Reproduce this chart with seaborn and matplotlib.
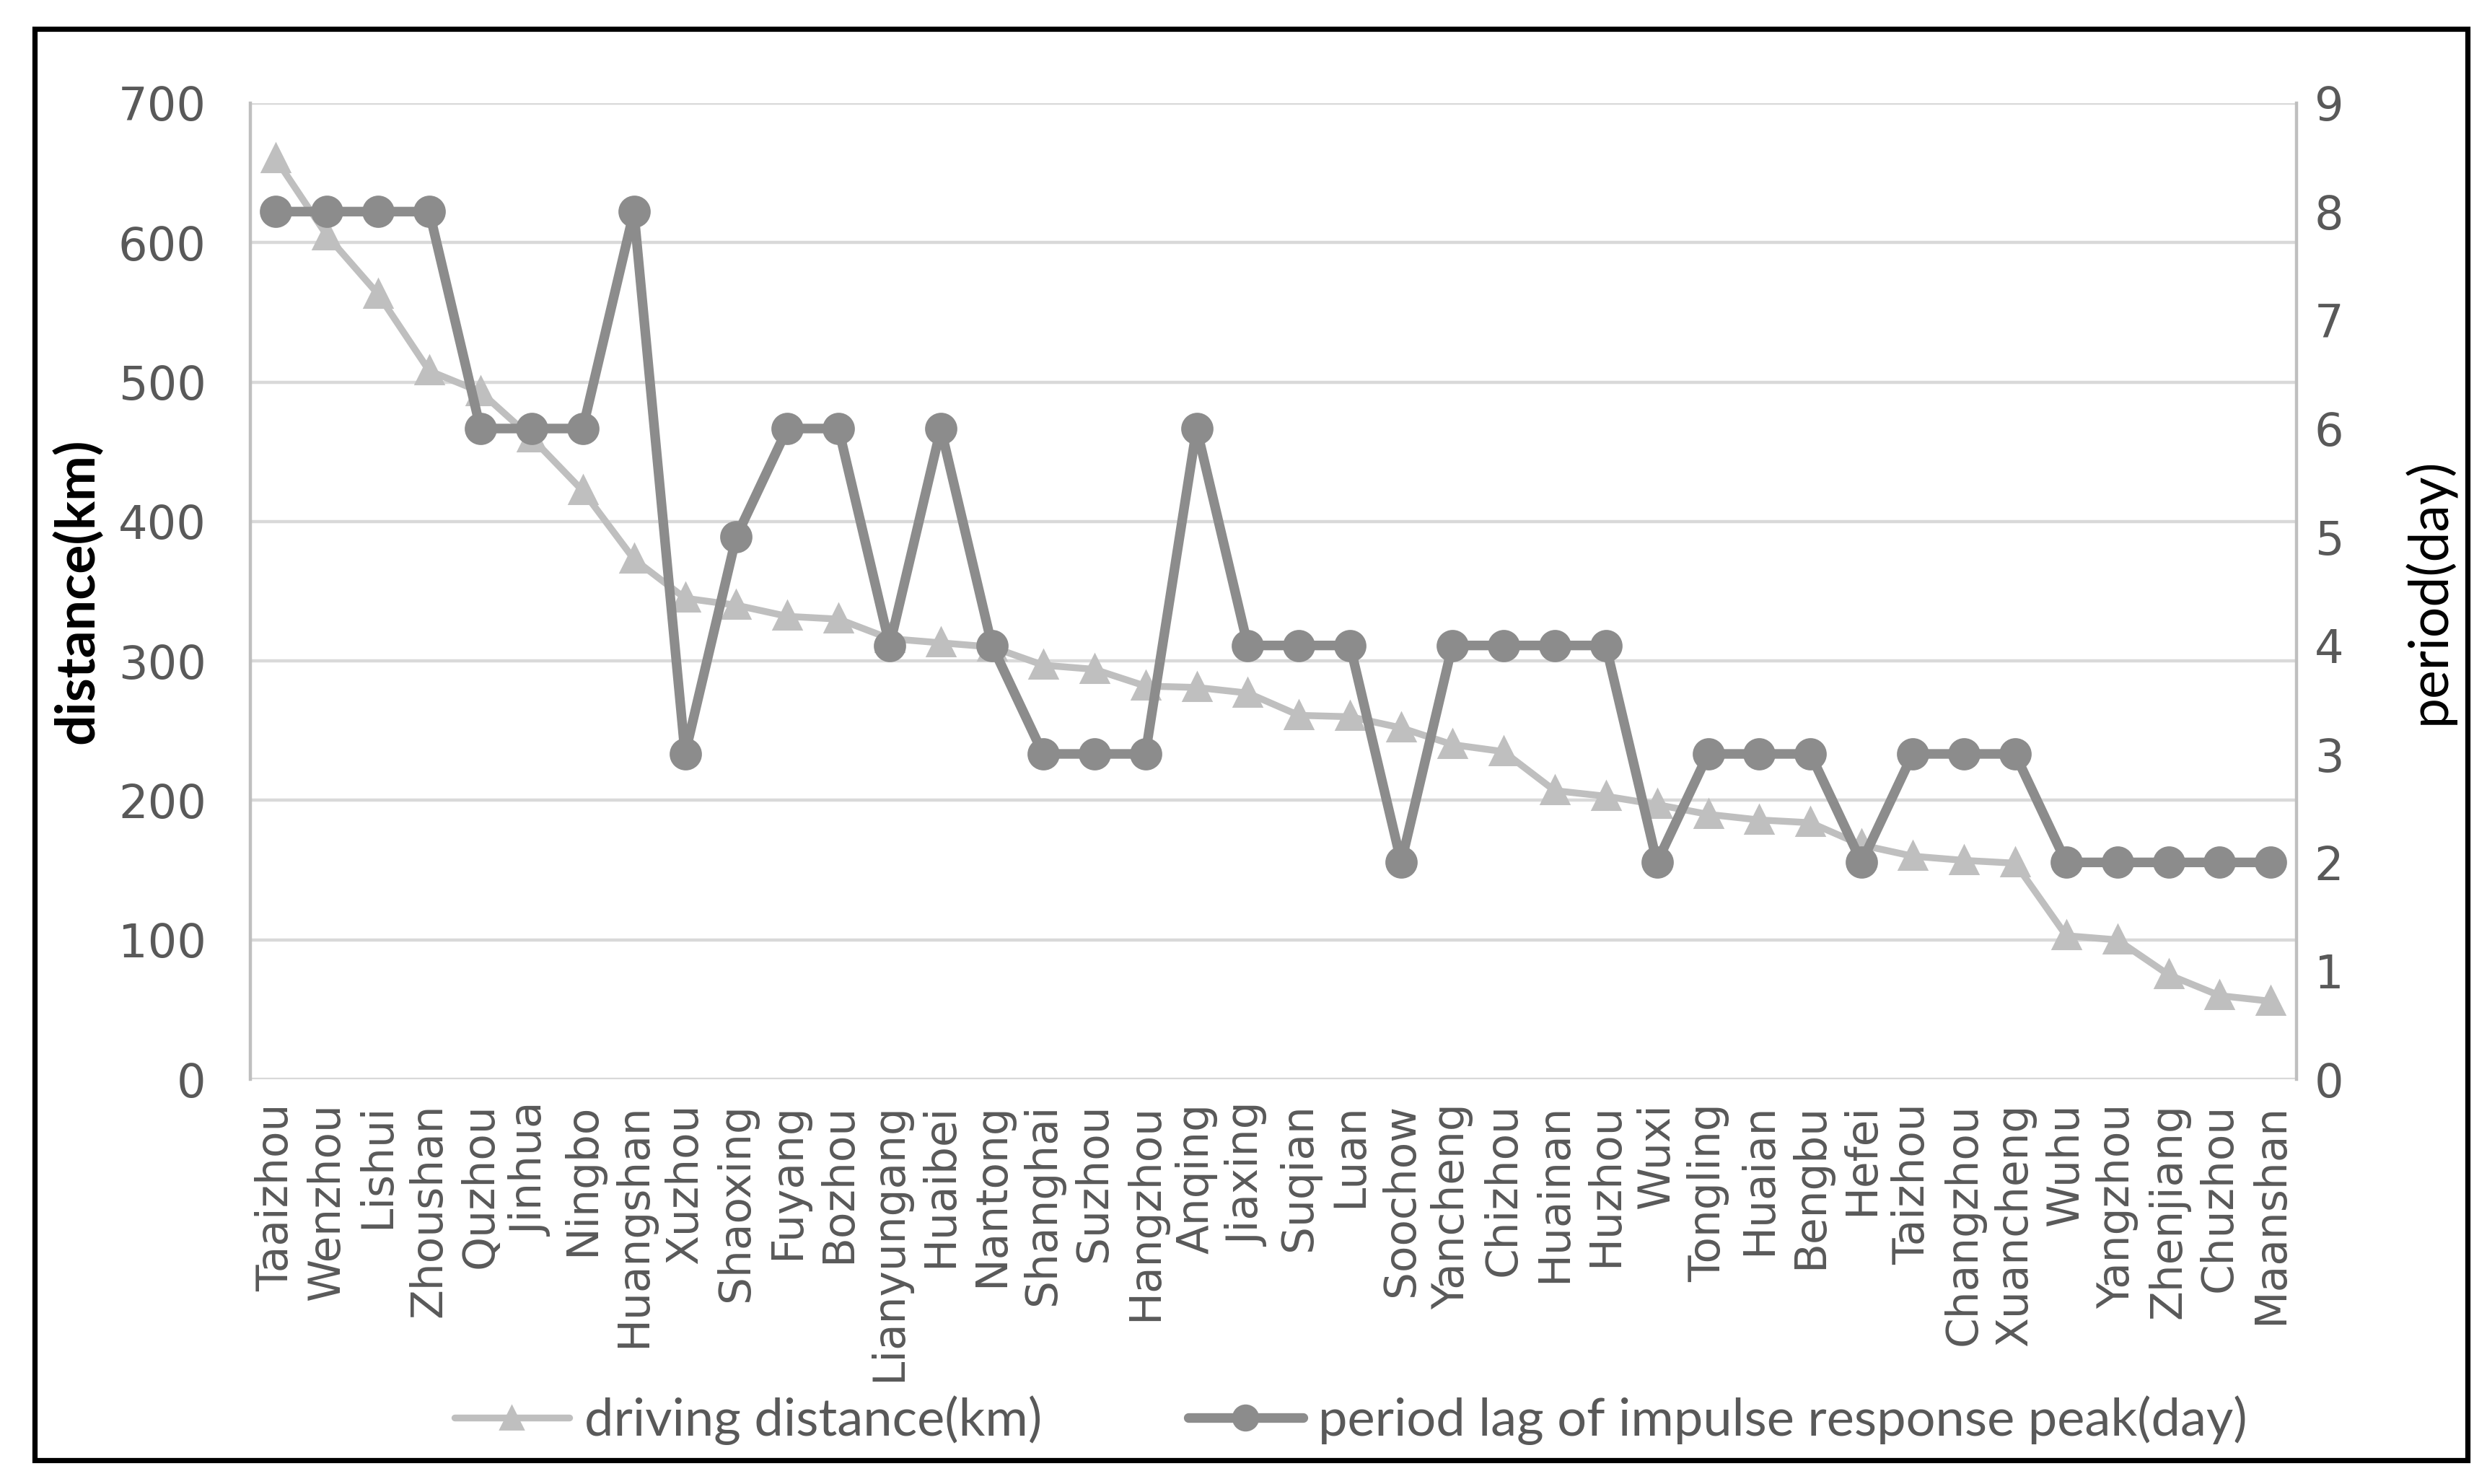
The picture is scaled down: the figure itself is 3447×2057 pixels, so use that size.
import pandas as pd
import matplotlib
matplotlib.use('Agg')
import matplotlib.pyplot as plt
from matplotlib.lines import Line2D
from matplotlib.patches import Rectangle
import seaborn as sns

# %% dados
cidades = ['Taaizhou', 'Wenzhou', 'Lishui', 'Zhoushan', 'Quzhou', 'Jinhua', 'Ningbo',
           'Huangshan', 'Xuzhou', 'Shaoxing', 'Fuyang', 'Bozhou', 'Lianyungang',
           'Huaibei', 'Nantong', 'Shanghai', 'Suzhou', 'Hangzhou', 'Anqing', 'Jiaxing',
           'Suqian', 'Luan', 'Soochow', 'Yancheng', 'Chizhou', 'Huainan', 'Huzhou',
           'Wuxi', 'Tongling', 'Huaian', 'Bengbu', 'Hefei', 'Taizhou', 'Changzhou',
           'Xuancheng', 'Wuhu', 'Yangzhou', 'Zhenjiang', 'Chuzhou', 'Maanshan']

distancia = [660, 605, 563, 508, 493, 460, 422, 373, 345, 340, 332, 330, 316, 313,
             310, 297, 294, 282, 281, 277, 261, 260, 252, 240, 235, 207, 203, 197,
             190, 186, 184, 168, 160, 157, 155, 103, 100, 75, 60, 56]

periodo = [8, 8, 8, 8, 6, 6, 6, 8, 3, 5, 6, 6, 4, 6, 4, 3, 3, 3, 6, 4,
           4, 4, 2, 4, 4, 4, 4, 2, 3, 3, 3, 2, 3, 3, 3, 2, 2, 2, 2, 2]

nome_dist = 'driving distance(km)'
nome_per = 'period lag of impulse response peak(day)'

df = pd.DataFrame({'cidade': cidades, 'distancia': distancia, 'periodo': periodo})

# %% estilo
sns.set_theme(style='white')
plt.rcParams['font.family'] = ['DejaVu Sans']

cor_dist = '#BFBFBF'
cor_per = '#8C8C8C'
cor_grid = '#D9D9D9'
cor_texto = '#595959'

fig = plt.figure(figsize=(17.24, 10.285), dpi=200)
ax = fig.add_axes([0.1006, 0.2727, 0.8225, 0.6578])

# linha da distancia (eixo esquerdo)
sns.pointplot(data=df, x='cidade', y='distancia', ax=ax, color=cor_dist,
              markers='^', linestyles='-', errorbar=None,
              markersize=11.5, linewidth=3.4)

# eixo direito - periodo
ax2 = ax.twinx()
sns.pointplot(data=df, x='cidade', y='periodo', ax=ax2, color=cor_per,
              markers='o', linestyles='-', errorbar=None,
              markersize=12.5, linewidth=4.8)

ax.set_xlim(-0.5, len(cidades) - 0.5)
ax.set_ylim(0, 700)
ax.set_yticks(range(0, 701, 100))
ax2.set_ylim(0, 9)
ax2.set_yticks(range(0, 10))

# grade horizontal
ax.yaxis.grid(True, color=cor_grid, linewidth=1.6)
ax.xaxis.grid(False)
ax2.grid(False)
ax.set_axisbelow(True)

for a in (ax, ax2):
    for lado in ['top', 'bottom']:
        a.spines[lado].set_visible(False)
ax.spines['left'].set_color(cor_dist)
ax.spines['left'].set_linewidth(1.6)
ax.spines['right'].set_visible(False)
ax2.spines['left'].set_visible(False)
ax2.spines['right'].set_color(cor_dist)
ax2.spines['right'].set_linewidth(1.6)

# rotulos dos ticks
ax.tick_params(axis='y', length=0, pad=22, labelsize=23, labelcolor=cor_texto)
ax.tick_params(axis='x', length=0, pad=12, labelsize=21.5, labelcolor=cor_texto,
               labelrotation=90)
ax2.tick_params(axis='y', length=0, pad=9, labelsize=23, labelcolor=cor_texto)

# titulos dos eixos
ax.set_xlabel('')
ax.set_ylabel('distance(km)', fontsize=27, fontweight='bold', color='black',
              family=['Lato', 'DejaVu Sans'])
ax.yaxis.set_label_coords(-0.072, 0.5)
ax2.set_ylabel('period(day)', fontsize=27, color='black',
               family=['Lato', 'DejaVu Sans'])
ax2.yaxis.set_label_coords(1.052, 0.5)

# legenda
handles = [
    Line2D([], [], color=cor_dist, marker='^', markersize=11.5, linewidth=3.4),
    Line2D([], [], color=cor_per, marker='o', markersize=12.5, linewidth=4.8),
]
fig.legend(handles, [nome_dist, nome_per], loc='center', ncol=2,
           bbox_to_anchor=(0.543, 0.043), frameon=False, handlelength=2.2,
           handletextpad=0.3, columnspacing=2.8,
           prop={'family': ['Lato', 'DejaVu Sans'], 'size': 26},
           labelcolor=cor_texto)

# moldura preta em volta
fig.patches.append(Rectangle((0.0139, 0.016), 0.978, 0.9645, transform=fig.transFigure,
                             fill=False, edgecolor='black', linewidth=2.6))

fig.savefig('out.png', dpi=200)
